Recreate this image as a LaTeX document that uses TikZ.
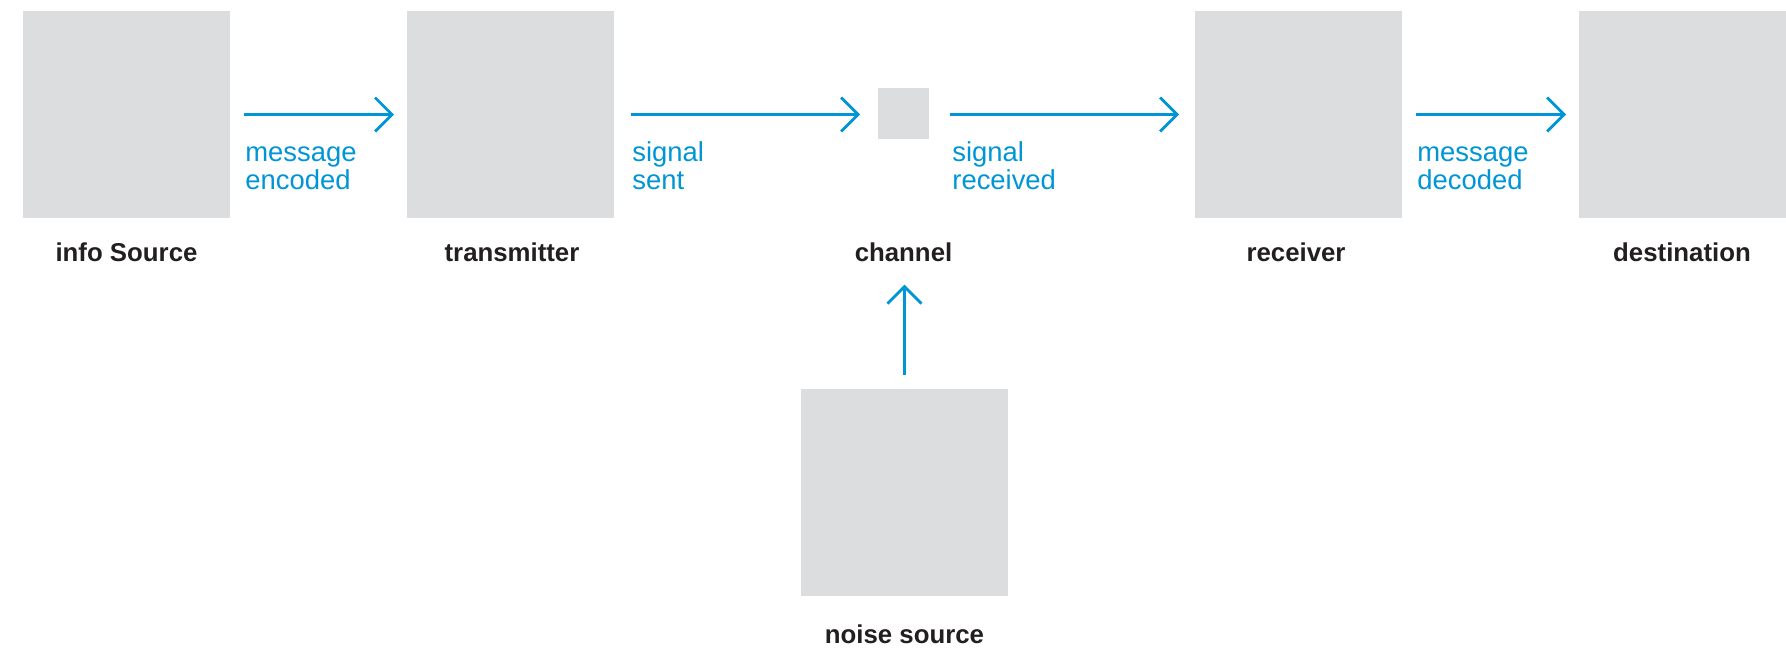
\documentclass[tikz,border=0pt]{standalone}
\usepackage{fontspec}
\setmainfont{Liberation Sans}
\usetikzlibrary{arrows.meta}
\definecolor{boxgrey}{HTML}{DCDDDF}
\definecolor{flowblue}{HTML}{0096D6}
\definecolor{labelink}{HTML}{231F20}

\begin{document}
\begin{tikzpicture}[x=0.5pt,y=-0.5pt,
  stage/.style={fill=boxgrey, draw=none, minimum size=103.5pt, inner sep=0pt, outer sep=0pt},
  chan/.style={fill=boxgrey, draw=none, minimum size=25.5pt, inner sep=0pt, outer sep=0pt},
  caption/.style={font=\bfseries\fontsize{12.9pt}{15pt}\selectfont, text=labelink, anchor=base, inner sep=0pt},
  flowlabel/.style={font=\fontsize{13.7pt}{13.6pt}\selectfont, text=flowblue, align=left, anchor=base west, inner sep=0pt},
  flow/.style={draw=flowblue, line width=1.4pt, -{Straight Barb[length=8.5pt,width=17pt]}}
]
\useasboundingbox[fill=white] (0,0) rectangle (1786,650);

% stages of the chain
\node[stage] (src)   at (126.5,114.5) {};
\node[stage] (tx)    at (510.5,114.5) {};
\node[chan]  (ch)    at (903.5,113.5) {};
\node[stage] (rx)    at (1298.5,114.5) {};
\node[stage] (dst)   at (1682.5,114.5) {};
\node[stage] (noise) at (904.5,492) {};

% captions under the stages
\node[caption] (srccap)   at (126.5,261) {info Source};
\node[caption] (txcap)    at (512,261) {transmitter};
\node[caption] (chcap)    at (903.5,261) {channel};
\node[caption] (rxcap)    at (1296,261) {receiver};
\node[caption] (dstcap)   at (1682,261) {destination};
\node[caption] (noisecap) at (904.5,643) {noise source};

% flow labels (anchored at the baseline of their second line)
\node[flowlabel] (l1) at (245,189) {message\\encoded};
\node[flowlabel] (l2) at (632,189) {signal\\sent};
\node[flowlabel] (l3) at (952,189) {signal\\received};
\node[flowlabel] (l4) at (1417,189) {message\\decoded};

% connectors
\draw[flow, shorten <=7pt, shorten >=6.5pt] (src.east) -- (tx.west);
\draw[flow, shorten <=8.5pt, shorten >=9pt] (tx.east) -- (tx.east -| ch.west);
\draw[flow, shorten <=10.5pt, shorten >=8pt] (ch.east |- rx.west) -- (rx.west);
\draw[flow, shorten <=7pt, shorten >=6.5pt] (rx.east) -- (dst.west);
\draw[flow, shorten <=7pt, shorten >=11.5pt] (noise.north) -- (noise.north |- chcap.south);
\end{tikzpicture}
\end{document}
